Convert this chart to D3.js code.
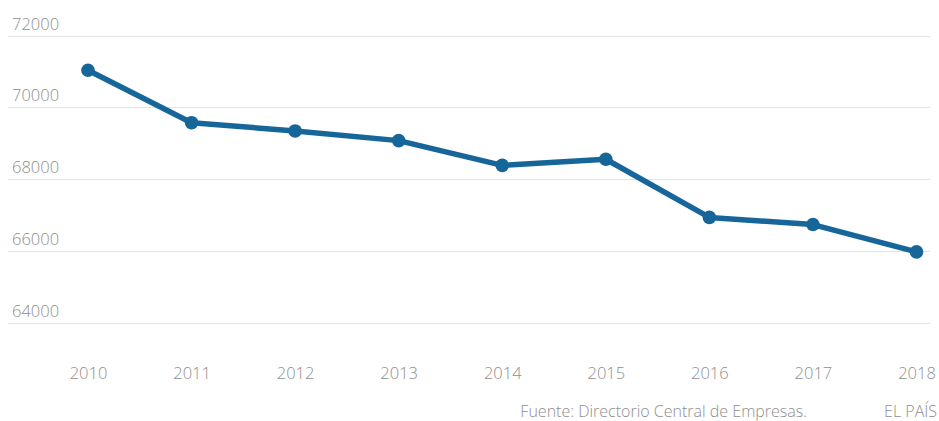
<!DOCTYPE html>
<html>
<head>
<meta charset="utf-8">
<script src="https://cdn.jsdelivr.net/npm/d3@7"></script>
<style>
  html, body { margin: 0; padding: 0; background: #fff; }
  svg { display: block; }
  text { font-family: "Open Sans", "Liberation Sans", sans-serif; font-weight: 300; }
</style>
</head>
<body>
<svg id="chart" width="939" height="421"></svg>
<script>
// Número de empresas por año
const years = ["2010", "2011", "2012", "2013", "2014", "2015", "2016", "2017", "2018"];
const empresas = [71030, 69570, 69340, 69070, 68380, 68550, 66930, 66730, 65970];
const yTicks = [64000, 66000, 68000, 70000, 72000];
const sourceText = "Fuente: Directorio Central de Empresas.";
const brandText = "EL PAÍS";

const svg = d3.select("#chart");

const x = d3.scalePoint().domain(years).range([88, 916.5]);
const y = d3.scaleLinear().domain([64000, 72000]).range([322.5, 35.5]);

// Gridlines and y labels
const grid = svg.append("g");
grid.selectAll("line")
  .data(yTicks)
  .join("line")
  .attr("x1", 8).attr("x2", 930)
  .attr("y1", d => Math.round(y(d)) + 0.5)
  .attr("y2", d => Math.round(y(d)) + 0.5)
  .attr("stroke", "#e2e2e2")
  .attr("stroke-width", 1);

grid.selectAll("text")
  .data(yTicks)
  .join("text")
  .attr("x", 12)
  .attr("y", d => y(d) - 6)
  .attr("font-size", 16.5)
  .attr("fill", "#8e8e8e")
  .text(d => d);

// x axis labels
const xAxis = d3.axisBottom(x).tickSize(0).tickPadding(0);
const gx = svg.append("g").attr("transform", "translate(0,367)").call(xAxis);
gx.select(".domain").remove();
gx.selectAll("text")
  .attr("font-size", 16.5)
  .attr("font-family", "\"Open Sans\", \"Liberation Sans\", sans-serif")
  .attr("font-weight", 300)
  .attr("fill", "#8e8e8e");

// Line and points
const data = years.map((yr, i) => ({ yr, v: empresas[i] }));
const line = d3.line().x(d => x(d.yr)).y(d => y(d.v));

svg.append("path")
  .datum(data)
  .attr("d", line)
  .attr("fill", "none")
  .attr("stroke", "#17669a")
  .attr("stroke-width", 5.5)
  .attr("stroke-linejoin", "round");

svg.append("g").selectAll("circle")
  .data(data)
  .join("circle")
  .attr("cx", d => x(d.yr))
  .attr("cy", d => y(d.v))
  .attr("r", 6.8)
  .attr("fill", "#17669a");

// Source line
svg.append("text")
  .attr("x", 807).attr("y", 417)
  .attr("text-anchor", "end")
  .attr("font-size", 16)
  .attr("fill", "#8e8e8e")
  .text(sourceText);

svg.append("text")
  .attr("x", 937).attr("y", 417)
  .attr("text-anchor", "end")
  .attr("font-size", 16)
  .attr("fill", "#8e8e8e")
  .text(brandText);
</script>
</body>
</html>
